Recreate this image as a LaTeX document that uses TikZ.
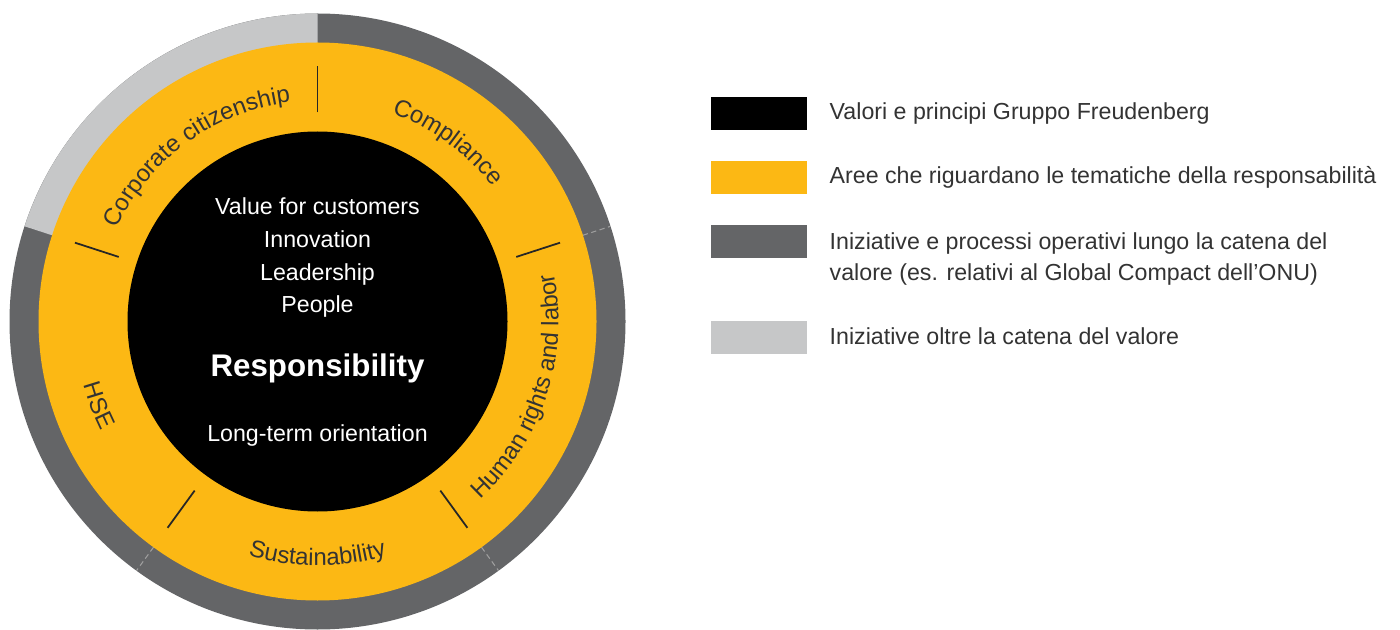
\documentclass[tikz,border=0pt]{standalone}
\usepackage{fontspec}
\setmainfont{Liberation Sans}
\usetikzlibrary{positioning,decorations.text}
\definecolor{fyellow}{HTML}{FCB814}
\definecolor{dgray}{HTML}{646567}
\definecolor{lgray}{HTML}{C6C7C8}
\definecolor{ltext}{HTML}{333333}
\newcommand{\smallfont}{\fontsize{6.6}{8.8}\selectfont}
\newcommand{\ringfont}{\fontsize{6.8}{8.8}\selectfont}

\begin{document}
\begin{tikzpicture}[
keybox/.style = {rectangle, inner sep=0, minimum width=0.96cm, minimum height=0.33cm},
keytext/.style = {anchor=base west, inner sep=0, text=ltext, font=\smallfont, align=left},
core/.style = {anchor=base, inner sep=0, text=white, font=\fontsize{6.6}{8}\selectfont},
cut/.style = {line width=0.5pt, draw=black!85},
seam/.style = {line width=0.3pt, draw=gray!75, dash pattern=on 1.5pt off 1pt}]
\useasboundingbox (0,0) rectangle (14,6.29);
\coordinate (c) at (3.175,3.075);
% rings
\fill[dgray] (c) circle (3.08);
\fill[lgray] (c) -- ++(90:3.08) arc (90:162:3.08) -- cycle;
\draw[seam] ([shift={(c)}]18:2.79) -- ([shift={(c)}]18:3.08);
\draw[seam] ([shift={(c)}]234:2.79) -- ([shift={(c)}]234:3.08);
\draw[seam] ([shift={(c)}]306:2.79) -- ([shift={(c)}]306:3.08);
\fill[fyellow] (c) circle (2.79);
\fill[black] (c) circle (1.90);
% cuts between the areas
\draw[cut] ([shift={(c)}]90:2.09) -- ([shift={(c)}]90:2.55);
\draw[cut] ([shift={(c)}]162:2.09) -- ([shift={(c)}]162:2.55);
\draw[cut] ([shift={(c)}]234:2.09) -- ([shift={(c)}]234:2.55);
\draw[cut] ([shift={(c)}]306:2.09) -- ([shift={(c)}]306:2.55);
\draw[cut] ([shift={(c)}]18:2.09) -- ([shift={(c)}]18:2.55);
% area labels
\path[decorate, decoration={text along path, text align=center, text color=ltext,
  text={|\ringfont|Corporate citizenship}}] ([shift={(c)}]162:2.21) arc (162:90:2.21);
\path[decorate, decoration={text along path, text align=center, text color=ltext,
  text={|\ringfont|Compliance}}] ([shift={(c)}]90:2.21) arc (90:18:2.21);
\path[decorate, decoration={text along path, text align=center, text color=ltext,
  text={|\ringfont|Human rights and labor}}] ([shift={(c)}]-54:2.41) arc (-54:18:2.41);
\path[decorate, decoration={text along path, text align=center, text color=ltext,
  text={|\ringfont|Sustainability}}] ([shift={(c)}]234:2.44) arc (234:306:2.44);
\path[decorate, decoration={text along path, text align=center, text color=ltext,
  text={|\ringfont|HSE}}] ([shift={(c)}]165:2.42) arc (165:237:2.42);
% values in the core
\node[core] at (3.175,4.14) (val) {Value for customers};
\node[core] at (3.175,3.81) (inno) {Innovation};
\node[core] at (3.175,3.48) (lead) {Leadership};
\node[core] at (3.175,3.17) (ppl) {People};
\node[core, font=\bfseries\fontsize{8.9}{10}\selectfont] at (3.175,2.523) (resp) {Responsibility};
\node[core] at (3.175,1.88) (lto) {Long-term orientation};
% legend
\node[keybox, fill=black] at (7.59,5.157) (kvals) {};
\node[keybox, fill=fyellow] at (7.59,4.515) (kareas) {};
\node[keybox, fill=dgray] at (7.59,3.875) (kproc) {};
\node[keybox, fill=lgray] at (7.59,2.915) (kbeyond) {};
\node[keytext] at (8.29,5.09) (tvals) {Valori e principi Gruppo Freudenberg};
\node[keytext] at (8.29,4.45) (tareas) {Aree che riguardano le tematiche della responsabilità};
\node[keytext, anchor=north west] at (8.29,3.974) (tproc) {Iniziative e processi operativi lungo la catena del\\valore (es. relativi al Global Compact dell’ONU)};
\node[keytext] at (8.29,2.84) (tbeyond) {Iniziative oltre la catena del valore};
\end{tikzpicture}
\end{document}
